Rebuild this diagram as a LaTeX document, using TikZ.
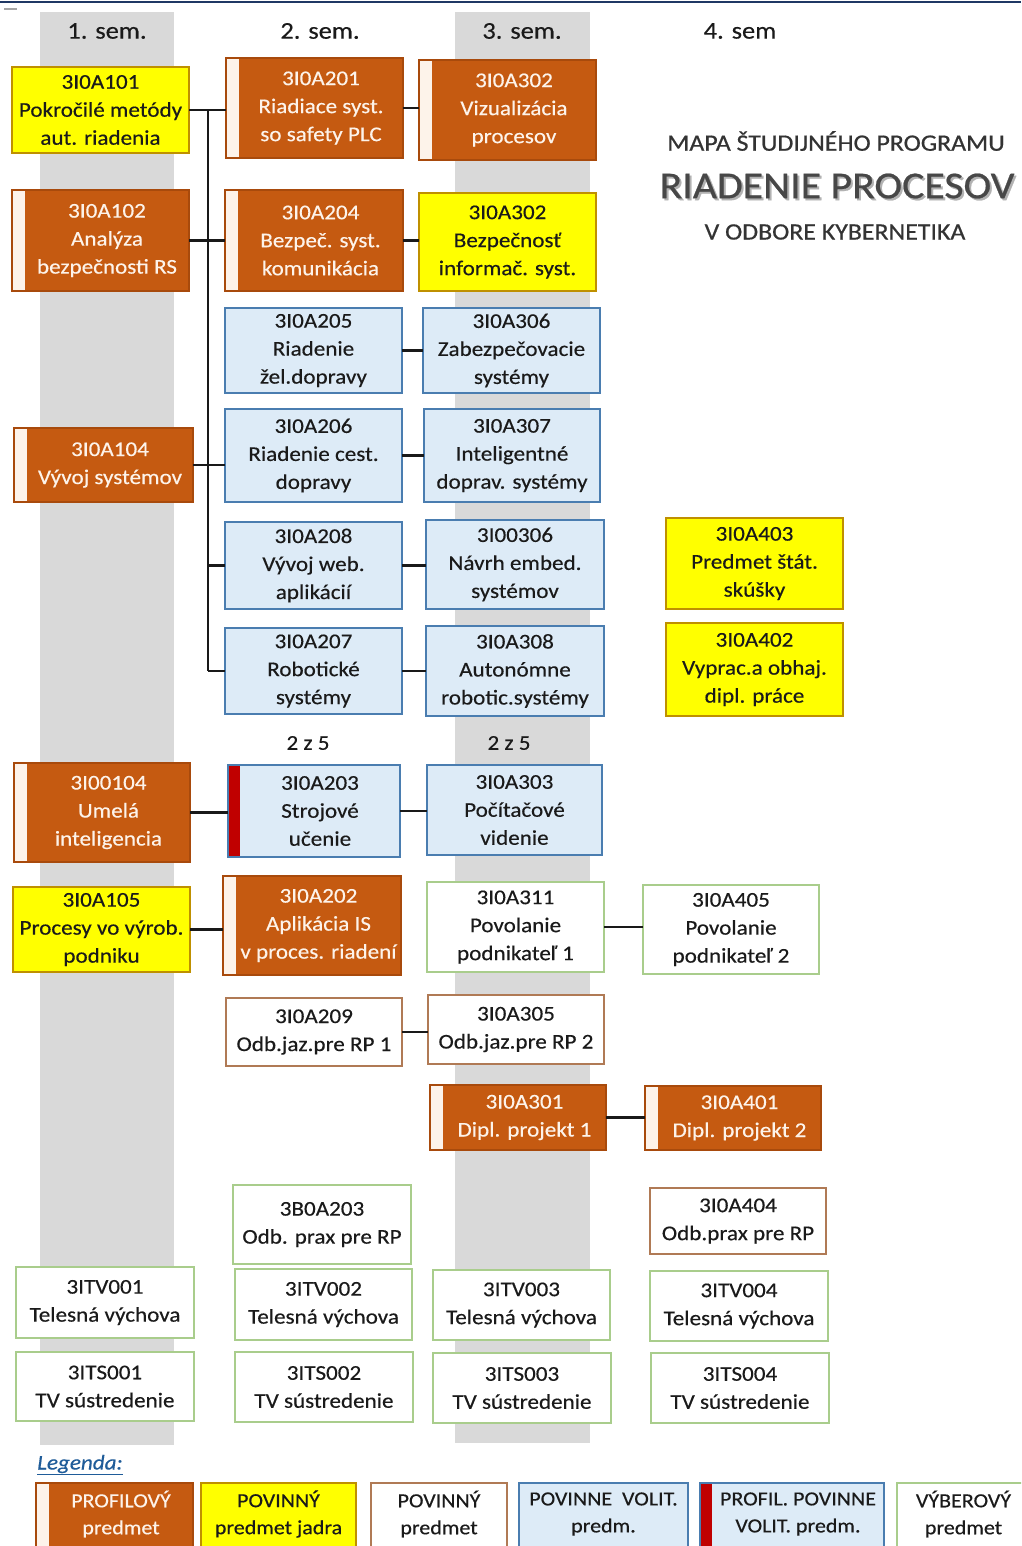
\documentclass[tikz,border=0pt]{standalone}
\usepackage{fontspec}
\setmainfont{Carlito}[FakeStretch=1.1,FakeBold=0.35]
\newfontfamily\titlefont{Carlito}[FakeStretch=1.1,FakeBold=0.6]
\definecolor{orng}{HTML}{C55A11}
\definecolor{orngdk}{HTML}{A84A0C}
\definecolor{cream}{HTML}{FDF3EA}
\definecolor{yel}{HTML}{FFFF00}
\definecolor{yeldk}{HTML}{BF9000}
\definecolor{lblue}{HTML}{DDEBF7}
\definecolor{sblue}{HTML}{4A7DB0}
\definecolor{redstrip}{HTML}{C00000}
\definecolor{grn}{HTML}{A9CD8C}
\definecolor{brn}{HTML}{B07A55}
\definecolor{colgray}{HTML}{D9D9D9}
\definecolor{txtc}{HTML}{1A1A1A}
\definecolor{navy}{HTML}{1F3864}
\definecolor{lgblue}{HTML}{1F5C99}
\newcommand{\bxf}{\fontsize{21}{28}\selectfont}
\newcommand{\lgf}{\fontsize{20}{27}\selectfont}
\tikzset{
  crsbox/.style={rectangle, inner sep=0pt, outer sep=0pt, line width=1.3pt},
  core/.style={crsbox, fill=yel, draw=yeldk},
  prof/.style={crsbox, fill=orng, draw=orngdk,
    path picture={\fill[cream] (path picture bounding box.south west) rectangle ([xshift=13pt]path picture bounding box.north west);}},
  pvol/.style={crsbox, fill=lblue, draw=sblue},
  pprof/.style={crsbox, fill=lblue, draw=sblue,
    path picture={\fill[redstrip] (path picture bounding box.south west) rectangle ([xshift=12pt]path picture bounding box.north west);}},
  pov/.style={crsbox, fill=white, draw=brn},
  vyb/.style={crsbox, fill=white, draw=grn},
  core text/.style={},
  prof text/.style={text=cream},
  pvol text/.style={},
  pprof text/.style={},
  pov text/.style={},
  vyb text/.style={},
  txt/.style={align=center, inner sep=0pt, font=\bxf, text=txtc},
  lgtxt/.style={align=center, inner sep=0pt, font=\lgf, text=txtc},
  conn/.style={draw=black!90, line width=2.2pt},
  hdr/.style={inner sep=0pt, font=\fontsize{24}{28}\selectfont, text=txtc},
}
% name, style, x1, y1, x2, y2, strip, text
\newcommand{\crs}[8]{%
  \node[#2, minimum width={#5-#3}, minimum height={#6-#4}] (#1) at ({(#3+#5)/2},{(#4+#6)/2}) {};
  \node[txt, #2 text] (#1t) at ({(#3+#5+#7)/2},{(#4+#6)/2}) {#8};}
% legend: name, style, x1, x2, strip, text
\newcommand{\lgb}[6]{%
  \node[#2, minimum width={#4-#3}, minimum height=100] (#1) at ({(#3+#4)/2},1533) {};
  \node[lgtxt, #2 text] (#1t) at ({(#3+#4+#5)/2},1514) {#6};}
\begin{document}
\begin{tikzpicture}[x=1pt,y=-1pt]
\useasboundingbox (0,0) rectangle (1021,1546);
\clip (0,0) rectangle (1021,1546);
\fill[white] (0,0) rectangle (1021,1546);
\draw[navy, line width=2pt] (0,2) -- (1021,2);
\draw[gray!70, line width=1.5pt] (4,9) -- (17,9);
% semester columns
\fill[colgray] (40,12) rectangle (174,1445);
\fill[colgray] (455,12) rectangle (590,1443);
\node[hdr] (h1) at (107,31) {1. sem.};
\node[hdr] (h2) at (320,31) {2. sem.};
\node[hdr] (h3) at (522,31) {3. sem.};
\node[hdr] (h4) at (740,31) {4. sem};
% title
\node[inner sep=0pt, text=black!80, font=\titlefont\fontsize{23.5}{26}\selectfont] (t1) at (836,141) {MAPA ŠTUDIJNÉHO PROGRAMU};
\node[inner sep=0pt, text=black!30, font=\titlefont\fontsize{38}{44}\selectfont] (t2s) at (839,188) {RIADENIE PROCESOV};
\node[inner sep=0pt, text=black!72, font=\titlefont\fontsize{38}{44}\selectfont] (t2) at (837,186) {RIADENIE PROCESOV};
\node[inner sep=0pt, text=black!80, font=\titlefont\fontsize{23.5}{26}\selectfont] (t3) at (835,232) {V ODBORE KYBERNETIKA};
% courses
\crs{a101}{core}{12}{67}{189}{153}{0}{3I0A101\\Pokročilé metódy\\aut. riadenia}
\crs{a201}{prof}{226}{58}{403}{158}{13}{3I0A201\\Riadiace syst.\\so safety PLC}
\crs{a302v}{prof}{419}{60}{596}{160}{13}{3I0A302\\Vizualizácia\\procesov}
\crs{a102}{prof}{12}{190}{189}{291}{13}{3I0A102\\Analýza\\bezpečnosti RS}
\crs{a204}{prof}{225}{190}{403}{291}{13}{3I0A204\\Bezpeč. syst.\\komunikácia}
\crs{a302b}{core}{419}{193}{596}{291}{0}{3I0A302\\Bezpečnosť\\informač. syst.}
\crs{a205}{pvol}{225}{308}{402}{393}{0}{3I0A205\\Riadenie\\žel.dopravy}
\crs{a306}{pvol}{423}{308}{600}{393}{0}{3I0A306\\Zabezpečovacie\\systémy}
\crs{a104}{prof}{14}{428}{193}{502}{13}{3I0A104\\Vývoj systémov}
\crs{a206}{pvol}{225}{409}{402}{502}{0}{3I0A206\\Riadenie cest.\\dopravy}
\crs{a307}{pvol}{424}{409}{600}{502}{0}{3I0A307\\Inteligentné\\doprav. systémy}
\crs{a208}{pvol}{225}{522}{402}{609}{0}{3I0A208\\Vývoj web.\\aplikácií}
\crs{b306}{pvol}{426}{520}{604}{609}{0}{3I00306\\Návrh embed.\\systémov}
\crs{a403}{core}{666}{518}{843}{609}{0}{3I0A403\\Predmet štát.\\skúšky}
\crs{a207}{pvol}{225}{628}{402}{714}{0}{3I0A207\\Robotické\\systémy}
\crs{a308}{pvol}{426}{626}{604}{716}{0}{3I0A308\\Autonómne\\robotic.systémy}
\crs{a402}{core}{666}{623}{843}{716}{0}{3I0A402\\Vyprac.a obhaj.\\dipl. práce}
\node[txt] (z1) at (308,743) {2 z 5};
\node[txt] (z2) at (509,743) {2 z 5};
\crs{b104}{prof}{14}{763}{190}{862}{13}{3I00104\\Umelá\\inteligencia}
\crs{a203}{pprof}{228}{765}{400}{857}{12}{3I0A203\\Strojové\\učenie}
\crs{a303}{pvol}{427}{765}{602}{855}{0}{3I0A303\\Počítačové\\videnie}
\crs{a105}{core}{13}{887}{190}{972}{0}{3I0A105\\Procesy vo výrob.\\podniku}
\crs{a202}{prof}{223}{876}{401}{975}{13}{3I0A202\\Aplikácia IS\\v proces. riadení}
\crs{a311}{vyb}{427}{882}{604}{972}{0}{3I0A311\\Povolanie\\podnikateľ 1}
\crs{a405}{vyb}{643}{885}{819}{974}{0}{3I0A405\\Povolanie\\podnikateľ 2}
\crs{a209}{pov}{226}{998}{402}{1066}{0}{3I0A209\\Odb.jaz.pre RP 1}
\crs{a305}{pov}{428}{995}{604}{1064}{0}{3I0A305\\Odb.jaz.pre RP 2}
\crs{a301}{prof}{430}{1085}{606}{1150}{13}{3I0A301\\Dipl. projekt 1}
\crs{a401}{prof}{645}{1086}{821}{1150}{13}{3I0A401\\Dipl. projekt 2}
\crs{c203}{vyb}{233}{1185}{411}{1264}{0}{3B0A203\\Odb. prax pre RP}
\crs{a404}{pov}{650}{1188}{826}{1254}{0}{3I0A404\\Odb.prax pre RP}
\crs{tv1}{vyb}{16}{1267}{194}{1338}{0}{3ITV001\\Telesná výchova}
\crs{tv2}{vyb}{235}{1269}{412}{1340}{0}{3ITV002\\Telesná výchova}
\crs{tv3}{vyb}{433}{1270}{610}{1340}{0}{3ITV003\\Telesná výchova}
\crs{tv4}{vyb}{650}{1271}{828}{1341}{0}{3ITV004\\Telesná výchova}
\crs{ts1}{vyb}{16}{1352}{194}{1421}{0}{3ITS001\\TV sústredenie}
\crs{ts2}{vyb}{235}{1352}{413}{1422}{0}{3ITS002\\TV sústredenie}
\crs{ts3}{vyb}{433}{1353}{611}{1423}{0}{3ITS003\\TV sústredenie}
\crs{ts4}{vyb}{651}{1353}{829}{1423}{0}{3ITS004\\TV sústredenie}
% connectors
\coordinate (tT) at (208,110);
\coordinate (tB) at (208,671);
\draw[conn] (tT) -- (tB);
\draw[conn] (a101.east) -- (a101.east -| a201.west);
\draw[conn] (a102.east) -- (a102.east -| a204.west);
\draw[conn] (a104.east) -- (a104.east -| a206.west);
\draw[conn] (a208.west -| tT) -- (a208.west);
\draw[conn] (a207.west -| tT) -- (a207.west);
\draw[conn] (a201.east) -- (a201.east -| a302v.west);
\draw[conn] (a204.east) -- (a204.east -| a302b.west);
\draw[conn] (a205.east) -- (a205.east -| a306.west);
\draw[conn] (a206.east) -- (a206.east -| a307.west);
\draw[conn] (a208.east) -- (a208.east -| b306.west);
\draw[conn] (a207.east) -- (a207.east -| a308.west);
\draw[conn] (b104.east) -- (b104.east -| a203.west);
\draw[conn] (a203.east) -- (a203.east -| a303.west);
\draw[conn] (a105.east) -- (a105.east -| a202.west);
\draw[conn] (a311.east) -- (a311.east -| a405.west);
\draw[conn] (a209.east) -- (a209.east -| a305.west);
\draw[conn] (a301.east) -- (a301.east -| a401.west);
% legend
\node[inner sep=0pt, text=lgblue, font=\fontsize{21}{24}\selectfont\itshape] (lgd) at (80,1465) {\underline{Legenda:}};
\lgb{l1}{prof}{36}{193}{13}{PROFILOVÝ\\predmet}
\lgb{l2}{core}{201}{356}{0}{POVINNÝ\\predmet jadra}
\lgb{l3}{pov}{371}{507}{0}{POVINNÝ\\predmet}
\lgb{l4}{pvol}{519}{688}{0}{POVINNE\ \ VOLIT.\\predm.}
\lgb{l5}{pprof}{700}{884}{12}{PROFIL. POVINNE\\VOLIT. predm.}
\lgb{l6}{vyb}{897}{1030}{0}{VÝBEROVÝ\\predmet}
\end{tikzpicture}
\end{document}
